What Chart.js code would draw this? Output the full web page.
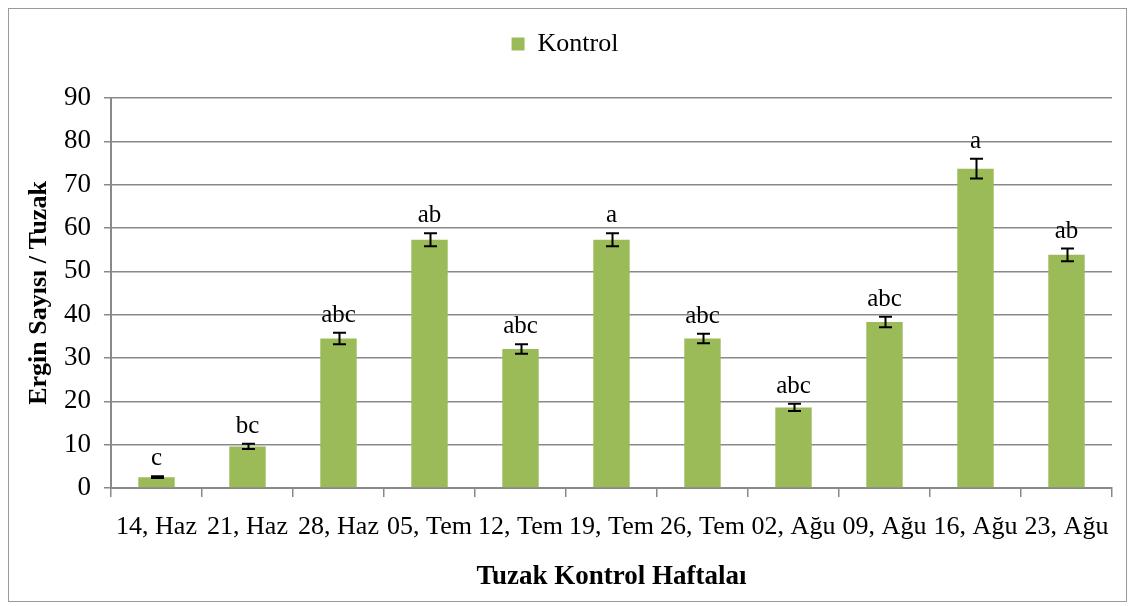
<!DOCTYPE html>
<html><head><meta charset="utf-8">
<script src="https://cdn.jsdelivr.net/npm/chart.js@4"></script>
<style>html,body{margin:0;padding:0;background:#fff}canvas{display:block}</style>
</head><body><canvas id="c" width="1131" height="606"></canvas>
<script>
const categories = ["14, Haz","21, Haz","28, Haz","05, Tem","12, Tem","19, Tem","26, Tem","02, Ağu","09, Ağu","16, Ağu","23, Ağu"];
const kontrol = [2.5, 9.6, 34.5, 57.3, 32.1, 57.3, 34.5, 18.6, 38.3, 73.7, 53.8];
const kontrolErr = [0.2, 0.6, 1.3, 1.5, 1.1, 1.5, 1.1, 0.85, 1.2, 2.3, 1.45];
const letters = ["c","bc","abc","ab","abc","a","abc","abc","abc","a","ab"];
const yMin = 0, yMax = 90, yStep = 10;
const seriesName = "Kontrol";
const xTitle = "Tuzak Kontrol Haftalaı";
const yTitle = "Ergin Sayısı / Tuzak";

const FONT = "'Liberation Serif', 'Times New Roman', serif";
const GRID = '#898989';
Chart.defaults.font.family = FONT;

const frame = {
  id: 'frame',
  beforeDraw(chart) {
    const c = chart.ctx;
    c.save();
    c.fillStyle = '#fff';
    c.fillRect(0, 0, chart.width, chart.height);
    c.strokeStyle = '#9a9a9a';
    c.lineWidth = 1;
    c.strokeRect(8.5, 8.5, 1118, 593);
    c.restore();
  }
};

const errLetters = {
  id: 'errLetters',
  afterDatasetsDraw(chart) {
    const c = chart.ctx;
    const meta = chart.getDatasetMeta(0);
    const ys = chart.scales.y;
    c.save();
    c.strokeStyle = '#000';
    c.lineWidth = 2;
    c.fillStyle = '#000';
    c.font = "25px " + FONT;
    c.textAlign = 'center';
    c.textBaseline = 'alphabetic';
    meta.data.forEach((bar, i) => {
      const x = Math.round(bar.x) + 0.5;
      const top = ys.getPixelForValue(kontrol[i] + kontrolErr[i]);
      const bot = ys.getPixelForValue(kontrol[i] - kontrolErr[i]);
      const cap = 6.5;
      c.beginPath();
      c.moveTo(x, top); c.lineTo(x, bot);
      c.moveTo(x - cap, top); c.lineTo(x + cap, top);
      c.moveTo(x - cap, bot); c.lineTo(x + cap, bot);
      c.stroke();
      c.fillText(letters[i], bar.x, top - 11);
    });
    c.restore();
  }
};

new Chart(document.getElementById('c'), {
  type: 'bar',
  data: {
    labels: categories,
    datasets: [{
      label: seriesName,
      data: kontrol,
      backgroundColor: '#9BBB59',
      borderWidth: 0,
      barPercentage: 0.8,
      categoryPercentage: 0.5
    }]
  },
  options: {
    responsive: false,
    animation: false,
    layout: { padding: { top: 11, left: 18, right: 19, bottom: 0 } },
    plugins: {
      legend: {
        display: true,
        position: 'top',
        labels: {
          font: { family: FONT, size: 26 },
          color: '#000',
          boxWidth: 13,
          boxHeight: 13,
          padding: 20
        }
      },
      title: {
        display: true,
        position: 'top',
        weight: 500,
        text: ' ',
        font: { size: 10 },
        padding: { top: 10, bottom: 9 }
      },
      tooltip: { enabled: false }
    },
    scales: {
      x: {
        offset: true,
        grid: { drawOnChartArea: false, offset: true, color: GRID, lineWidth: 1.5, tickLength: 9, tickColor: GRID },
        border: { color: GRID, width: 2 },
        ticks: { font: { family: FONT, size: 26 }, color: '#000', padding: 15, maxRotation: 0, autoSkip: false },
        title: { display: true, text: xTitle, font: { family: FONT, size: 27, weight: 'bold' }, color: '#000', padding: { top: 0, bottom: 13 } },
        afterFit(scale) { scale.height = 118; }
      },
      y: {
        min: yMin, max: yMax,
        grid: { color: GRID, lineWidth: 1.5, tickLength: 7, tickColor: GRID },
        border: { color: GRID, width: 2 },
        ticks: { stepSize: yStep, font: { family: FONT, size: 27 }, color: '#000', padding: 13 },
        title: { display: true, text: yTitle, font: { family: FONT, size: 26, weight: 'bold' }, color: '#000', padding: { top: 6, bottom: 0 } },
        afterFit(scale) { scale.width = 93; }
      }
    }
  },
  plugins: [frame, errLetters]
});
</script>
</body></html>
